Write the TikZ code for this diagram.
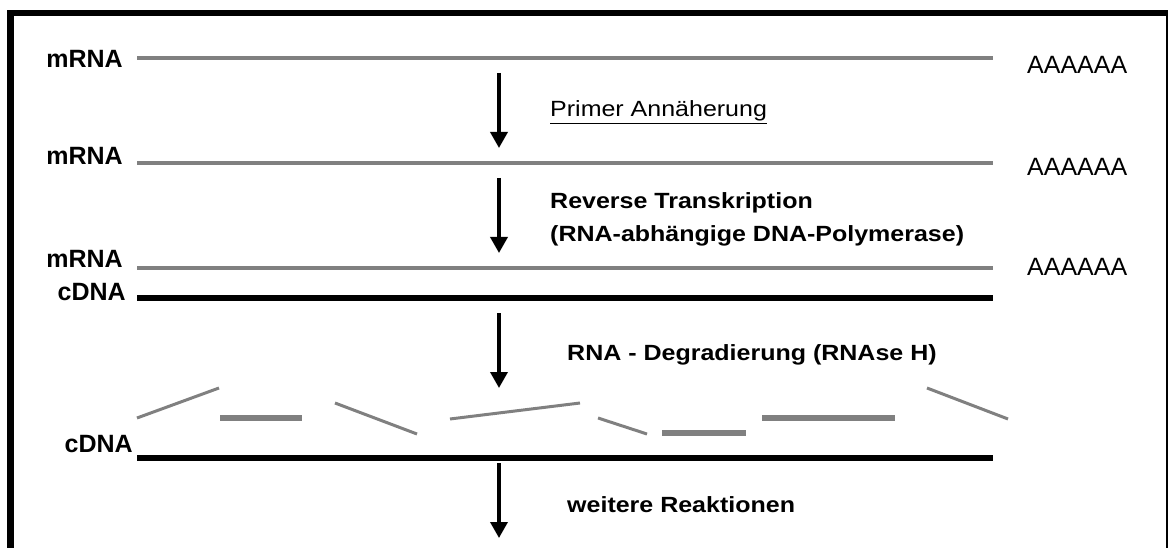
\documentclass[tikz,border=0pt]{standalone}
\usepackage{fontspec}
\setmainfont{Liberation Sans}
\usetikzlibrary{arrows.meta}
\tikzset{
  lbl/.style={anchor=base east,inner sep=0pt,font=\fontsize{25}{30}\selectfont\bfseries},
  polya/.style={anchor=base west,inner sep=0pt,font=\fontsize{25}{30}\selectfont},
  steptxt/.style={anchor=base west,inner sep=0pt,font=\fontsize{25}{30}\selectfont},
  rna/.style={draw=black!50,line width=4.5pt},
  dna/.style={draw=black,line width=5.5pt},
  frag/.style={draw=black!50,line width=3pt},
  fragthick/.style={draw=black!50,line width=6pt},
  stepArrow/.style={draw=black,line width=3.5pt,-{Triangle[length=16pt,width=17pt]}},
}
\newcommand{\sq}[1]{\scalebox{1}[0.88]{#1}}
\begin{document}
\begin{tikzpicture}[x=1pt,y=-1pt]
\useasboundingbox (0,0) rectangle (1170,548);
% frame
\draw[line width=6.5pt] (10.5,560) -- (10.5,13) -- (1168,13);
\draw[line width=2pt] (1167,13) -- (1167,560);

% row 1
\node[lbl] (m1) at (123,68) {mRNA};
\coordinate (m1a) at (137,58); \coordinate (m1b) at (993,58);
\draw[rna] (m1a) -- (m1b);
\node[polya] (a1) at (1027,74) {AAAAAA};

\coordinate (ar1s) at (499,73); \coordinate (ar1e) at (499,148);
\draw[stepArrow] (ar1s) -- (ar1e);
\node[steptxt] (t1) at (550,117) {\sq{\underline{Primer Annäherung}}};

% row 2
\node[lbl] (m2) at (123,165) {mRNA};
\coordinate (m2a) at (137,163); \coordinate (m2b) at (993,163);
\draw[rna] (m2a) -- (m2b);
\node[polya] (a2) at (1027,176) {AAAAAA};

\coordinate (ar2s) at (499,178); \coordinate (ar2e) at (499,253);
\draw[stepArrow] (ar2s) -- (ar2e);
\node[steptxt] (t2) at (550,209) {\sq{\bfseries Reverse Transkription}};
\node[steptxt] (t3) at (550,242) {\sq{\bfseries (RNA-abhängige DNA-Polymerase)}};

% row 3
\node[lbl] (m3) at (123,268) {mRNA};
\coordinate (m3a) at (137,268); \coordinate (m3b) at (993,268);
\draw[rna] (m3a) -- (m3b);
\node[polya] (a3) at (1027,275) {AAAAAA};
\node[lbl] (c1) at (126,300) {cDNA};
\coordinate (c1a) at (137,298); \coordinate (c1b) at (993,298);
\draw[dna] (c1a) -- (c1b);

\coordinate (ar3s) at (499,313); \coordinate (ar3e) at (499,388);
\draw[stepArrow] (ar3s) -- (ar3e);
\node[steptxt] (t4) at (567,360) {\sq{\bfseries RNA - Degradierung (RNAse H)}};

% fragments
\coordinate (f1a) at (137,418); \coordinate (f1b) at (219,388);
\coordinate (f2a) at (220,418); \coordinate (f2b) at (302,418);
\coordinate (f3a) at (335,403); \coordinate (f3b) at (417,434);
\coordinate (f4a) at (450,419); \coordinate (f4b) at (580,403);
\coordinate (f5a) at (598,418); \coordinate (f5b) at (647,434);
\coordinate (f6a) at (662,433); \coordinate (f6b) at (746,433);
\coordinate (f7a) at (762,418); \coordinate (f7b) at (895,418);
\coordinate (f8a) at (927,388); \coordinate (f8b) at (1008,419);
\draw[frag] (f1a) -- (f1b);
\draw[fragthick] (f2a) -- (f2b);
\draw[frag] (f3a) -- (f3b);
\draw[frag] (f4a) -- (f4b);
\draw[frag] (f5a) -- (f5b);
\draw[fragthick] (f6a) -- (f6b);
\draw[fragthick] (f7a) -- (f7b);
\draw[frag] (f8a) -- (f8b);

% row 4
\node[lbl] (c2) at (133,452) {cDNA};
\coordinate (c2a) at (137,458); \coordinate (c2b) at (993,458);
\draw[dna] (c2a) -- (c2b);

\coordinate (ar4s) at (499,463); \coordinate (ar4e) at (499,538);
\draw[stepArrow] (ar4s) -- (ar4e);
\node[steptxt] (t5) at (567,512) {\sq{\bfseries weitere Reaktionen}};
\end{tikzpicture}
\end{document}
